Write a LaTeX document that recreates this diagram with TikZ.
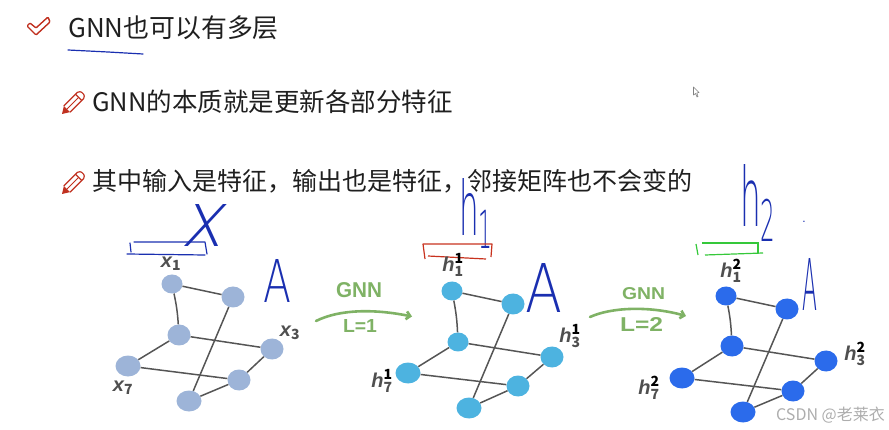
\documentclass[tikz,border=0pt]{standalone}
\usepackage{fontspec}
\usepackage{graphicx}
\setmainfont{Noto Sans CJK SC}
\newfontfamily\handfont{Liberation Sans}
\newfontfamily\penfont{DejaVu Sans ExtraLight}
\newfontfamily\penslant[FakeSlant=0.25]{DejaVu Sans ExtraLight}
\usetikzlibrary{shapes.geometric,arrows.meta}
\definecolor{inkblue}{HTML}{1A2FB0}
\definecolor{inkred}{HTML}{C8321E}
\definecolor{inkgreen}{HTML}{35C83A}
\definecolor{iconred}{HTML}{C0301F}
\definecolor{nodeA}{HTML}{9DB4D8}
\definecolor{nodeB}{HTML}{4DB3E0}
\definecolor{nodeC}{HTML}{2B6BEB}
\definecolor{edgegray}{HTML}{555555}
\definecolor{labgray}{HTML}{4F4F4F}
\definecolor{arrowgreen}{HTML}{7FB265}
\newcommand{\hlab}[3]{{\handfont\bfseries\itshape #1}$^{\textcolor{black}{\mathbf{#2}}}_{\mathbf{#3}}$}
\newcommand{\xlab}[2]{{\handfont\bfseries\itshape #1}$_{\mathbf{#2}}$}
\tikzset{
  x=1pt,y=-1pt,
  maintext/.style={anchor=base west,inner sep=0pt,font=\fontsize{25.5pt}{30pt}\selectfont,text=black!88},
  smallink/.style={inner sep=0pt,font=\penfont,text=inkblue},
  pennote/.style={line width=1.2pt,inkblue,line cap=round,line join=round},
  gnode/.style={ellipse,inner sep=0pt,draw=none},
  s/.style={gnode,minimum width=21pt,minimum height=19pt},
  m/.style={gnode,minimum width=23pt,minimum height=21pt},
  l/.style={gnode,minimum width=25pt,minimum height=21pt},
  gedge/.style={line width=1.5pt,edgegray},
  hand/.style={inner sep=0pt,text=labgray,font=\fontsize{20pt}{21pt}\selectfont},
  gnnarrow/.style={line width=2.6pt,arrowgreen,line cap=round,-{Straight Barb[length=4pt,width=8pt]}},
  greenlab/.style={inner sep=0pt,text=arrowgreen,font=\handfont\bfseries},
  checkicon/.style={line width=1.4pt,iconred,line join=round},
  penicon/.style={line width=1.2pt,iconred,line join=round}
}
\newcommand{\pencilicon}[2]{%
  \begin{scope}[shift={(#1,#2)},scale=0.88]
    \fill[iconred] (0,0) -- (9.1,-2.1) -- (2.1,-9.1) -- cycle;
    \draw[penicon,rounded corners=1.5pt] (9.1,-2.1) -- (25.9,-18.9) -- (24,-24) -- (18.9,-25.9) -- (2.1,-9.1);
    \draw[penicon] (22.4,-15.4) -- (15.4,-22.4);
    \draw[penicon,line width=0.8pt] (5.6,-5.6) -- (18.9,-18.9);
  \end{scope}}
\begin{document}
\begin{tikzpicture}
\useasboundingbox (0,0) rectangle (889,430);
% headings
\draw[checkicon,rounded corners=1pt] (27,26) -- (36,35) -- (50,22) -- (48,17) -- (36,28) -- (30,23) -- cycle;
\node[maintext,font=\fontsize{25.9pt}{30pt}\selectfont] (t1) at (68,37.5) {GNN也可以有多层};
\draw[pennote] (68,50) -- (108,52) -- (143,54);
\pencilicon{62}{114}
\node[maintext] (t2) at (92,112) {GNN的本质就是更新各部分特征};
\pencilicon{62}{194}
\node[maintext,font=\fontsize{25pt}{30pt}\selectfont] (t3) at (92,191) {其中输入是特征，输出也是特征，邻接矩阵也不会变的};
% mouse cursor
\draw[gray,line width=0.6pt,line join=round] (693.5,87) -- (693.5,95) -- (695.5,93.5) -- (697,97) -- (698,96.5) -- (696.8,93) -- (699,92.5) -- cycle;
% first graph
\node[s,fill=nodeA] (a1) at (172,284) {};
\node[m,fill=nodeA] (b1) at (233,297) {};
\node[m,fill=nodeA] (c1) at (179,335) {};
\node[m,fill=nodeA] (d1) at (272,349) {};
\node[l,fill=nodeA] (e1) at (128,366) {};
\node[m,fill=nodeA] (f1) at (239,380) {};
\node[l,fill=nodeA] (g1) at (189,401) {};
% second graph
\node[s,fill=nodeB] (a2) at (452,291) {};
\node[m,fill=nodeB] (b2) at (513,304) {};
\node[s,fill=nodeB] (c2) at (458,342) {};
\node[m,fill=nodeB] (d2) at (552,357) {};
\node[l,fill=nodeB] (e2) at (408,373) {};
\node[m,fill=nodeB] (f2) at (518,386) {};
\node[l,fill=nodeB] (g2) at (469,408) {};
% third graph
\node[s,fill=nodeC] (a3) at (726,296) {};
\node[m,fill=nodeC] (b3) at (787,309) {};
\node[m,fill=nodeC] (c3) at (732,346) {};
\node[m,fill=nodeC] (d3) at (826,361) {};
\node[l,fill=nodeC] (e3) at (682,378) {};
\node[m,fill=nodeC] (f3) at (793,391) {};
\node[l,fill=nodeC] (g3) at (743,412) {};
\foreach \n in {1,2,3}{
  \draw[gedge] (a\n) -- (b\n);
  \draw[gedge] (a\n) to[bend left=4] (c\n);
  \draw[gedge] (c\n) -- (d\n);
  \draw[gedge] (c\n) -- (e\n);
  \draw[gedge] (b\n) -- (g\n);
  \draw[gedge] (e\n) -- (f\n);
  \draw[gedge] (d\n) -- (f\n);
  \draw[gedge] (f\n) -- (g\n);
}
% node labels
\node[hand] (lx1) at (171,264) {\xlab{x}{1}};
\node[hand] (lx3) at (290,333) {\xlab{x}{3}};
\node[hand] (lx7) at (123,388) {\xlab{x}{7}};
% pen annotations
\node[smallink] (px) at (201,226) {\resizebox{42pt}{42pt}{\penslant x}};
\node[smallink] (pa1) at (277,280.5) {\resizebox{28pt}{43pt}{A}};
\node[smallink] (ph1) at (476.5,213.5) {\resizebox{35pt}{57pt}{h\textsubscript{1}}};
\node[smallink] (pa2) at (543.5,287.5) {\resizebox{37pt}{49pt}{A}};
\node[smallink] (ph2) at (758.5,203) {\resizebox{37pt}{62pt}{h\textsubscript{2}}};
\node[smallink,font=\handfont\fontsize{12pt}{12pt}\selectfont] (pdot) at (804,222) {.};
\node[smallink] (pa3) at (809.5,284) {\resizebox{15pt}{52pt}{A}};
% brackets over graphs
\draw[pennote] (130,243) -- (131,252);
\draw[pennote] (134,242) -- (205,242) -- (207,254);
\draw[pennote] (127,254) -- (205,255);
\draw[line width=1.2pt,inkred,line join=round] (425,259) -- (423,244) -- (492,244) -- (491,257);
\draw[line width=1.2pt,inkred] (428,256) -- (486,259);
\draw[line width=1.2pt,inkgreen] (696,244) -- (698,255);
\draw[line width=1.2pt,inkgreen] (702,243) -- (758,243) -- (758,253);
\draw[line width=1.2pt,inkgreen] (705,255) -- (763,253);
% h labels
\node[hand] (lh21) at (453,265) {\hlab{h}{1}{1}};
\node[hand] (lh23) at (570,336) {\hlab{h}{1}{3}};
\node[hand] (lh27) at (382,381) {\hlab{h}{1}{7}};
\node[hand] (lh31) at (731,271) {\hlab{h}{2}{1}};
\node[hand] (lh33) at (855,354) {\hlab{h}{2}{3}};
\node[hand] (lh37) at (649,388) {\hlab{h}{2}{7}};
% GNN arrows
\coordinate (s1) at (316,321);
\coordinate (t1e) at (412,316.5);
\coordinate (s2) at (590,317);
\coordinate (t2e) at (686,316);
\draw[gnnarrow] (s1) .. controls (340,309) and (375,309) .. (t1e);
\draw[gnnarrow] (s2) .. controls (612,307) and (650,306) .. (t2e);
\node[greenlab] (g1l) at (359,290.5) {\resizebox{46pt}{15pt}{GNN}};
\node[greenlab] (l1l) at (360,326.5) {\resizebox{34pt}{13pt}{L=1}};
\node[greenlab] (g2l) at (643.5,294) {\resizebox{43pt}{12pt}{GNN}};
\node[greenlab] (l2l) at (641.5,325) {\resizebox{43pt}{14pt}{L=2}};
% watermark
\node[anchor=base east,inner sep=0pt,text=black!32,font=\fontsize{16pt}{18pt}\selectfont] (wm) at (885,420) {CSDN @老莱衣};
\end{tikzpicture}
\end{document}
